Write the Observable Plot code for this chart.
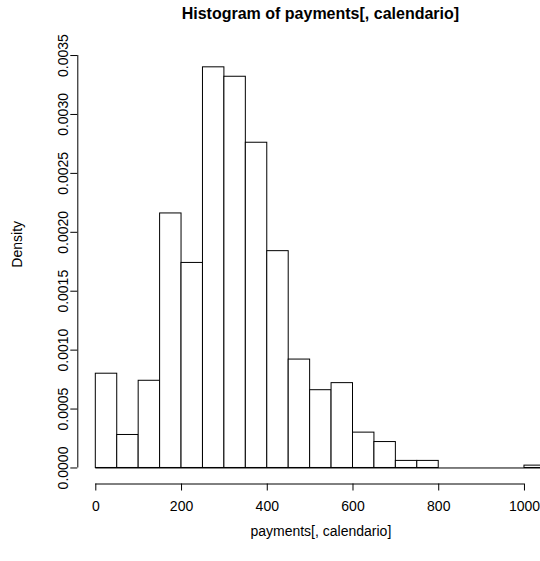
<!DOCTYPE html>
<html><head><meta charset="utf-8">
<script src="https://cdn.jsdelivr.net/npm/d3@7"></script>
<script src="https://cdn.jsdelivr.net/npm/@observablehq/plot@0.6"></script>
<style>
body{margin:0;background:#fff;width:540px;height:561px;overflow:hidden;font-family:"Liberation Sans",Arial,Helvetica,sans-serif;}
#title{box-sizing:border-box;width:540px;height:30px;padding:5px 0 0 100.8px;text-align:center;font-weight:bold;font-size:16px;line-height:18px;white-space:nowrap;color:#000;}
#chart svg{display:block;overflow:hidden;}
</style></head><body>
<div id="title">Histogram of payments[, calendario]</div>
<div id="chart"></div>
<script>
// bin edges of the histogram
const breaks = [0, 50, 100, 150, 200, 250, 300, 350, 400, 450, 500, 550, 600, 650, 700, 750, 800, 850, 900, 950, 1000, 1050];
// density of each bin
const density = [0.0008, 0.00028, 0.00074, 0.00216, 0.00174, 0.0034, 0.00332, 0.00276, 0.00184, 0.00092, 0.00066, 0.00072, 0.0003, 0.00022, 0.00006, 0.00006, 0, 0, 0, 0, 0.00002];
const xTicks = [0, 200, 400, 600, 800, 1000];
const yTicks = [0, 0.0005, 0.001, 0.0015, 0.002, 0.0025, 0.003, 0.0035];
const xLabel = "payments[, calendario]";
const yLabel = "Density";

const bins = density.map((d, i) => ({x1: breaks[i], x2: breaks[i + 1], density: d}));
const ymax = d3.max(density);
const yDomain = [-0.04 * ymax, 1.04 * ymax];
const xspan = breaks[breaks.length - 1] - breaks[0];
const xDomain = [breaks[0] - 0.04 * xspan, breaks[breaks.length - 1] + 0.04 * xspan];
const fmtY = d3.format(".4f");

const chart = Plot.plot({
  width: 540, height: 531,
  marginLeft: 77.3, marginRight: -23.4, marginTop: 20.8, marginBottom: 77.5,
  x: {domain: xDomain},
  y: {domain: yDomain},
  style: {fontFamily: '"Liberation Sans", Arial, Helvetica, sans-serif', fontSize: "14px", background: "white", color: "black", overflow: "hidden"},
  marks: [
    Plot.rect(bins, {x1: "x1", x2: "x2", y1: 0, y2: "density", fill: "white", stroke: "black", strokeWidth: 1}),
    Plot.ruleY([0], {x1: breaks[0], x2: breaks[breaks.length - 1], stroke: "black"}),
    Plot.ruleY([yDomain[0]], {x1: xTicks[0], x2: xTicks[xTicks.length - 1], stroke: "black"}),
    Plot.ruleX([xDomain[0]], {y1: yTicks[0], y2: yTicks[yTicks.length - 1], stroke: "black"}),
    Plot.axisX({ticks: xTicks, tickSize: 7, tickPadding: 10, tickFormat: d => String(d), fontSize: 14, label: null}),
    Plot.axisY({ticks: yTicks, tickSize: 7, tickFormat: fmtY, tickRotate: -90, fontSize: 14, label: null}),
    Plot.text([yLabel], {text: d => d, frameAnchor: "left", dx: -60.3, rotate: -90, fontSize: 14}),
    Plot.text([xLabel], {text: d => d, frameAnchor: "bottom", dy: 51.5, fontSize: 14})
  ]
});
document.getElementById("chart").appendChild(chart);
</script>
</body></html>
